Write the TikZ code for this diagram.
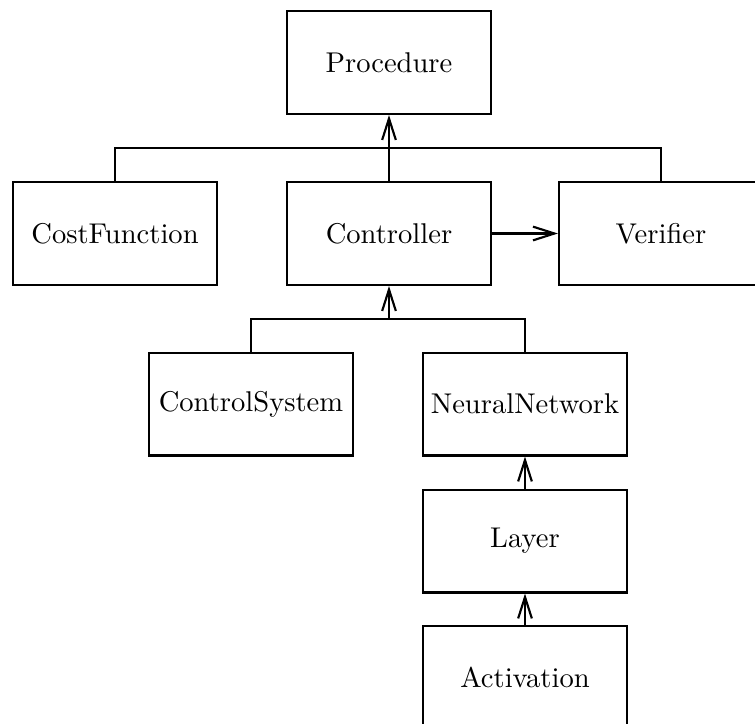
\documentclass[tikz,border=0pt]{standalone}
\usetikzlibrary{arrows.meta}
\begin{document}
\begin{tikzpicture}[x=0.35pt,y=-0.35pt,
  box/.style={draw,line width=0.75pt,minimum width=71.4pt,minimum height=36pt,inner sep=0pt,font=\normalsize},
  conn/.style={line width=0.75pt},
  arr/.style={line width=0.75pt,-{Straight Barb[length=7.5pt,width=4.8pt,line join=miter]}}]
\useasboundingbox (0,0) rectangle (755,724);
\begin{scope}
\clip (0,0) rectangle (755,724);
\node[box] (proc) at (389,62.5) {Procedure};
\node[box] (cost) at (115,233.5) {CostFunction};
\node[box] (ctrl) at (389,233.5) {Controller};
\node[box] (ver) at (661,233.5) {Verifier};
\node[box] (cs) at (251,404) {ControlSystem};
\node[box] (nn) at (525,404) {NeuralNetwork};
\node[box] (lay) at (525,541) {Layer};
\node[box] (act) at (525,677.5) {Activation};
\coordinate (j1) at (389,148);
\coordinate (j2) at (389,319);
\draw[conn] (cost.north) |- (j1) -| (ver.north);
\draw[arr] (ctrl.north) -- (proc.south);
\draw[arr] (ctrl.east) -- (ver.west);
\draw[conn] (cs.north) |- (j2) -| (nn.north);
\draw[arr] (j2) -- (ctrl.south);
\draw[arr] (lay.north) -- (nn.south);
\draw[arr] (act.north) -- (lay.south);
\end{scope}
\end{tikzpicture}
\end{document}
